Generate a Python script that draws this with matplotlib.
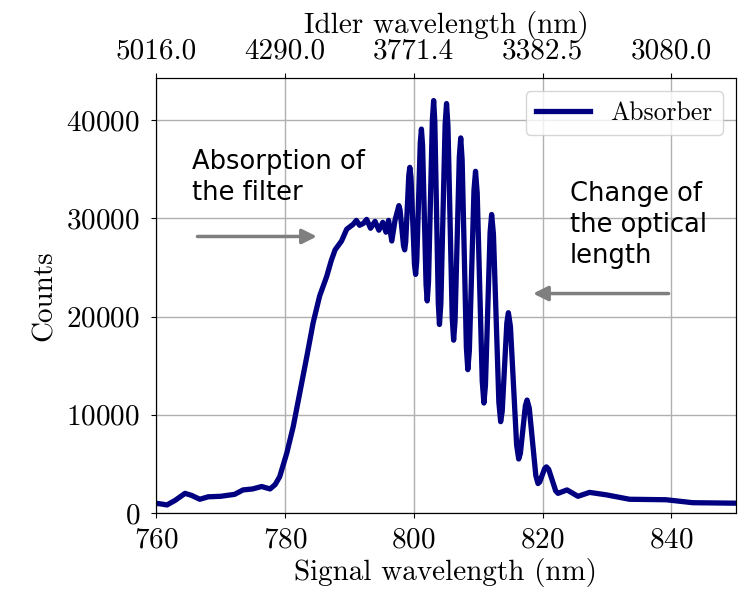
import matplotlib
matplotlib.use('Agg')
import matplotlib.pyplot as plt

plt.rcParams['font.family'] = 'serif'
plt.rcParams['font.serif'] = ['cmr10']
plt.rcParams['mathtext.fontset'] = 'cm'
plt.rcParams['axes.formatter.use_mathtext'] = True

# signal wavelength (nm) and counts
signal_nm = [760.0, 761.0, 761.7, 763.0, 764.5, 765.5, 766.8, 768.1, 770.0, 772.2,
             773.5, 775.0, 776.4, 777.7, 778.5, 779.2, 780.3, 781.3, 782.3, 783.4,
             784.4, 785.4, 786.5, 787.2, 787.8, 788.8, 789.6, 790.6, 791.1, 791.6,
             792.2, 792.7, 793.3, 794.0, 794.6, 795.2, 795.7, 796.1, 796.6, 797.1,
             797.7, 797.88, 798.15, 798.42,
             798.6, 798.76, 799.0, 799.24,
             799.4, 799.58, 799.85, 800.12,
             800.3, 800.48, 800.75, 801.02,
             801.2, 801.38, 801.65, 801.92,
             802.1, 802.3, 802.6, 802.9,
             803.1, 803.28, 803.55, 803.82,
             804.0, 804.22, 804.55, 804.88,
             805.1, 805.32, 805.65, 805.98,
             806.2, 806.42, 806.75, 807.08,
             807.3, 807.52, 807.85, 808.18,
             808.4, 808.64, 809.0, 809.36,
             809.6, 809.86, 810.25, 810.64,
             810.9, 811.14, 811.5, 811.86,
             812.1, 812.38, 812.8, 813.22,
             813.5, 813.74, 814.1, 814.46,
             814.7, 815.02, 815.5, 815.98,
             816.3, 816.56, 816.95, 817.34,
             817.6, 817.94, 818.45, 818.96,
             819.3, 819.56, 819.95, 820.34,
             820.6, 820.96, 821.5, 822.04,
             822.4, 823.8, 825.5, 827.3, 829.9, 833.5, 839.2, 843.3, 850.0]
counts = [990, 900, 820, 1300, 2000, 1800, 1400, 1650, 1700, 1900,
          2350, 2450, 2700, 2450, 2900, 3700, 6100, 8800, 12200, 15900,
          19400, 22100, 24100, 25700, 26800, 27700, 28900, 29400, 29800, 29300,
          29500, 29900, 29000, 29700, 28800, 29600, 28600, 29800, 27700, 29800,
          31300, 30870, 29050, 27230,
          26800, 27600, 31000, 34400,
          35200, 34160, 29750, 25340,
          24300, 25710, 31700, 37690,
          39100, 37440, 30350, 23260,
          21600, 23540, 31800, 40060,
          42000, 39830, 30600, 21370,
          19200, 21340, 30450, 39560,
          41700, 39410, 29650, 19890,
          17600, 19560, 27900, 36240,
          38200, 35960, 26400, 16840,
          14600, 16520, 24700, 32880,
          34800, 32560, 23000, 13440,
          11200, 13020, 20800, 28580,
          30400, 28400, 19850, 11300,
          9300, 10350, 14850, 19350,
          20400, 18980, 12950, 6920,
          5500, 6070, 8500, 10930,
          11500, 10690, 7250, 3810,
          3000, 3160, 3850, 4540,
          4700, 4440, 3350, 2260,
          2000, 2350, 1700, 2100, 1850, 1400, 1350, 1050, 1000]

x_ticks = [760, 780, 800, 820, 840]
idler_labels = ['5016.0', '4290.0', '3771.4', '3382.5', '3080.0']
y_ticks = [0, 10000, 20000, 30000, 40000]

fig = plt.figure(figsize=(7.38, 5.90), dpi=100)
ax = fig.add_axes([0.2114, 0.1305, 0.7856, 0.7373])

ax.plot(signal_nm, counts, color='#000080', lw=3.8, label='Absorber',
        solid_joinstyle='round')
ax.set_xlim(760, 850)
ax.set_ylim(0, 44300)
ax.set_xticks(x_ticks)
ax.set_yticks(y_ticks)
ax.grid(True, color='#b0b0b0', lw=1)
ax.tick_params(axis='x', labelsize=21, pad=7)
ax.tick_params(axis='y', labelsize=21, pad=8)
ax.set_xlabel('Signal wavelength (nm)', fontsize=21, labelpad=3)
ax.set_ylabel('Counts', fontsize=21, labelpad=6)

top = ax.twiny()
top.set_xlim(ax.get_xlim())
top.set_xticks(x_ticks)
top.set_xticklabels(idler_labels)
top.tick_params(labelsize=21, pad=6)
top.set_xlabel('Idler wavelength (nm)', fontsize=21, labelpad=4)

ax.legend(loc='upper right', fontsize=18.5, handlelength=2.1)

sans = ['DejaVu Sans']
ax.text(765.6, 37100, 'Absorption of\nthe filter', fontsize=18.5, family=sans,
        va='top', ha='left', linespacing=1.25)
ax.annotate('', xy=(785.4, 28160), xytext=(766.0, 28160),
            arrowprops=dict(arrowstyle='-|>', color='#7f7f7f', lw=2.5,
                            mutation_scale=22))
ax.text(824.2, 33800, 'Change of\nthe optical\nlength', fontsize=18.5,
        family=sans, va='top', ha='left', linespacing=1.25)
ax.annotate('', xy=(818.1, 22350), xytext=(840.0, 22350),
            arrowprops=dict(arrowstyle='-|>', color='#7f7f7f', lw=2.5,
                            mutation_scale=22))

fig.savefig('out.png', dpi=100)
